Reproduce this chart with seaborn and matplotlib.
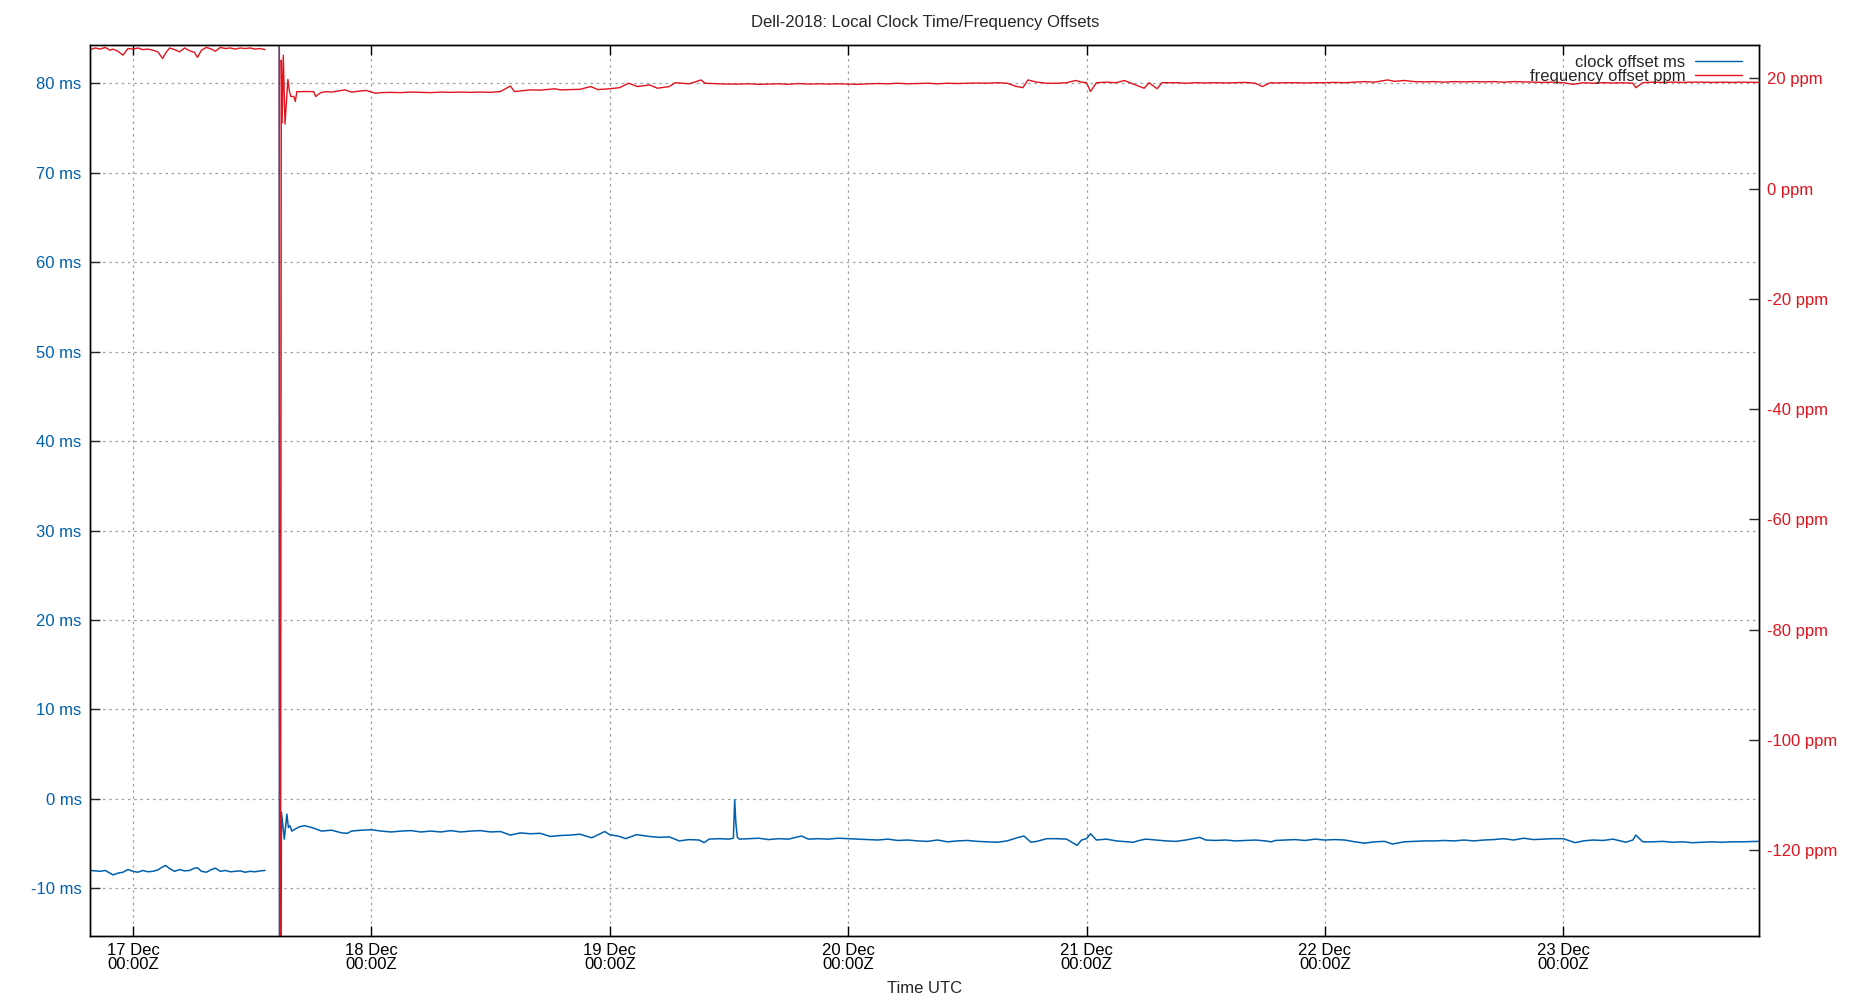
import matplotlib
matplotlib.use("Agg")
import matplotlib.pyplot as plt
from matplotlib.lines import Line2D
import pandas as pd
import seaborn as sns

BLUE = "#0060ad"
RED = "#e0141e"
BASE = pd.Timestamp("2018-12-17 00:00")

# all times are hours after 17 Dec 00:00Z

# before the outage
pre_hours = [-4.3, -3.8, -3.3, -2.8, -2.3, -2.0, -1.5, -1.0, -0.5, 0.0, 0.5, 1.0, 1.5,
             2.0, 2.5, 3.0, 3.3, 3.7, 4.2, 4.7, 5.2, 5.7, 6.2, 6.5, 6.9, 7.4, 7.9, 8.3,
             8.8, 9.3, 9.8, 10.3, 10.8, 11.3, 11.8, 12.3, 12.8, 13.3]
pre_ms = [-8.0, -8.05, -8.1, -8.0, -8.3, -8.5, -8.3, -8.2, -7.9, -8.1, -8.2, -8.0, -8.15,
          -8.1, -7.95, -7.6, -7.45, -7.8, -8.1, -7.9, -8.05, -8.0, -7.75, -7.7, -8.1, -8.2,
          -7.9, -7.75, -8.1, -8.0, -8.15, -8.1, -8.05, -8.2, -8.1, -8.15, -8.05, -8.0]
pre_ppm = [25.2, 25.5, 25.3, 25.6, 25.1, 25.3, 24.9, 24.2, 25.4, 25.3, 25.5, 25.2, 25.3,
           25.1, 24.8, 23.6, 24.6, 25.5, 25.2, 24.8, 25.5, 25.0, 24.7, 23.8, 25.1, 25.6,
           25.3, 24.9, 25.6, 25.4, 25.5, 25.3, 25.5, 25.4, 25.5, 25.3, 25.4, 25.2]

# restart transient + rest of the week, clock offset
post_ms_hours = [14.72, 14.76, 14.95, 15.05, 15.24, 15.5, 15.65, 15.8, 16.0, 16.3, 16.8,
                 17.3, 18, 19, 20, 21, 21.6, 22, 23, 24, 25, 26, 27, 28, 29, 30, 31, 32,
                 33, 34, 35, 36, 37, 38, 39, 40, 41, 42, 43, 44, 45, 46.2, 47.5, 48, 49,
                 49.6, 50.7, 52, 53, 54, 55, 56, 57, 57.5, 58, 59, 60, 60.45, 60.58, 60.7,
                 60.85, 61.05, 62, 63, 64, 65, 66, 67.3, 68, 69, 70, 71, 72, 73, 74, 75,
                 76, 77, 78, 79, 80, 81, 82, 83, 84, 85, 86, 87, 88, 89, 89.7, 90.4, 91,
                 92, 93, 94, 95.05, 95.5, 96, 96.4, 97, 98, 99, 100.7, 101.5, 102, 103,
                 104, 105, 106, 107.4, 108, 109, 110, 111, 112, 113, 114, 114.6, 115, 116,
                 117, 118, 119, 120, 121, 122, 123, 124, 125, 126, 126.8, 128, 129, 130,
                 131, 132, 133, 134, 135, 136, 137, 138, 139, 140, 141, 142, 143, 144,
                 145.2, 146, 147, 148, 149, 150.3, 151, 151.3, 152, 153, 154, 155, 156,
                 157, 158, 159, 160, 161, 162, 163.7]
post_ms = [130, -90, -1.5, -2.5, -4.5, -1.7, -3.2, -3.0, -3.6, -3.4, -3.1,
           -3.0, -3.2, -3.6, -3.5, -3.8, -3.85, -3.6, -3.5, -3.45, -3.6, -3.7, -3.6, -3.55,
           -3.7, -3.6, -3.7, -3.55, -3.7, -3.6, -3.55, -3.7, -3.65, -4.05, -3.8, -3.9,
           -3.85, -4.2, -4.1, -4.05, -3.95, -4.35, -3.65, -4.0, -4.2, -4.45, -4.0, -4.2,
           -4.3, -4.25, -4.7, -4.55, -4.6, -4.9, -4.5, -4.45, -4.5, -4.4, -0.1, -2.7,
           -4.3, -4.5, -4.45, -4.4, -4.55, -4.45, -4.5, -4.15, -4.5, -4.45, -4.5, -4.4,
           -4.45, -4.5, -4.55, -4.6, -4.5, -4.65, -4.6, -4.7, -4.75, -4.6, -4.8, -4.7,
           -4.65, -4.75, -4.8, -4.85, -4.7, -4.35, -4.15, -4.85, -4.75, -4.45, -4.45,
           -4.5, -5.2, -4.6, -4.45, -3.9, -4.6, -4.5, -4.7, -4.85, -4.6, -4.5, -4.6,
           -4.7, -4.75, -4.6, -4.3, -4.6, -4.65, -4.6, -4.7, -4.65, -4.6, -4.7, -4.8,
           -4.65, -4.6, -4.55, -4.65, -4.5, -4.6, -4.55, -4.6, -4.8, -4.95, -4.8, -4.75,
           -5.05, -4.8, -4.75, -4.7, -4.7, -4.65, -4.7, -4.6, -4.7, -4.6, -4.55, -4.45,
           -4.6, -4.4, -4.55, -4.5, -4.45, -4.45, -4.9, -4.7, -4.6, -4.65, -4.5, -4.85,
           -4.6, -4.05, -4.8, -4.8, -4.75, -4.85, -4.8, -4.9, -4.85, -4.8, -4.85, -4.8,
           -4.8, -4.75]

# restart transient + rest of the week, frequency offset
post_ppm_hours = [14.74, 14.80, 14.94, 15.02, 15.14, 15.31, 15.6, 15.75, 15.9, 16.2,
                  16.35, 16.5, 16.72, 17.5, 18.2, 18.4, 18.9, 19.4, 20, 21.35, 22, 23.46,
                  24.4, 25, 26, 27, 28, 29, 30, 31, 32, 33, 34, 35, 36, 37, 38, 38.4, 39,
                  40, 41, 42.5, 43, 44, 45, 46.1, 46.8, 48, 49, 49.9, 50.8, 52, 52.8, 54,
                  54.6, 56, 57.2, 57.6, 59, 60, 61, 62, 63, 64, 65, 66, 67, 68, 69, 70, 71,
                  72, 73, 74, 75, 76, 77, 78, 79, 80, 81, 82, 83, 84, 85, 86, 87, 88, 89,
                  89.6, 90.1, 91, 92, 93, 94, 94.9, 95.5, 96, 96.4, 97, 98, 99, 99.8,
                  100.5, 101.8, 102.3, 103.1, 103.6, 105, 106, 107, 108, 109, 110, 111,
                  112, 113, 113.7, 114.5, 115, 116, 117, 118, 119, 120, 121, 122, 123, 124,
                  125, 126.3, 127, 128, 129, 130, 131, 132, 133, 134, 135, 136, 137, 138,
                  139, 140, 141, 142, 143, 144, 145, 146, 147, 148, 149, 150, 151, 151.3,
                  152, 153, 154, 155, 156, 157, 158, 159, 160, 161, 162, 163.7]
post_ppm = [60, -300, 23.3, 11.9, 24.2, 11.7, 19.8, 17.7, 16.7, 16.7,
            15.8, 17.6, 17.57, 17.6, 17.57, 16.7, 17.4, 17.57, 17.5, 17.9, 17.5, 17.8,
            17.3, 17.4, 17.45, 17.4, 17.5, 17.45, 17.4, 17.5, 17.45, 17.5, 17.45, 17.5,
            17.45, 17.6, 18.6, 17.6, 17.7, 17.9, 17.85, 18.1, 17.9, 17.95, 18.0, 18.5,
            17.95, 18.1, 18.3, 19.1, 18.5, 18.8, 18.2, 18.5, 19.2, 19.0, 19.7, 19.1,
            19.0, 18.95, 18.95, 19.0, 18.9, 18.95, 19.0, 18.9, 19.05, 18.95, 19.0, 18.95,
            19.0, 18.95, 18.9, 19.0, 19.05, 19.0, 19.1, 19.0, 19.05, 19.1, 19.0, 19.1,
            19.05, 19.1, 19.15, 19.1, 19.2, 19.1, 18.5, 18.3, 19.7, 19.3, 19.1, 19.1,
            19.2, 19.6, 19.3, 19.2, 17.6, 19.2, 19.3, 19.2, 19.6, 19.1, 18.2, 19.2, 18.1,
            19.2, 19.2, 19.1, 19.2, 19.15, 19.2, 19.15, 19.2, 19.25, 19.1, 18.5, 19.2,
            19.15, 19.2, 19.2, 19.15, 19.2, 19.2, 19.25, 19.2, 19.3, 19.4, 19.3, 19.7,
            19.45, 19.6, 19.4, 19.35, 19.4, 19.3, 19.4, 19.35, 19.4, 19.35, 19.4, 19.3,
            19.4, 19.35, 19.3, 19.25, 19.3, 19.2, 18.9, 19.2, 19.1, 19.2, 19.15, 19.2,
            19.1, 18.3, 19.2, 19.3, 19.25, 19.3, 19.25, 19.3, 19.3, 19.25, 19.3, 19.25,
            19.3, 19.25]

day_labels = ["17 Dec\n00:00Z", "18 Dec\n00:00Z", "19 Dec\n00:00Z", "20 Dec\n00:00Z",
              "21 Dec\n00:00Z", "22 Dec\n00:00Z", "23 Dec\n00:00Z"]
ms_ticks = [-10, 0, 10, 20, 30, 40, 50, 60, 70, 80]
ppm_ticks = [-120, -100, -80, -60, -40, -20, 0, 20]


def to_time(hours):
    return BASE + pd.to_timedelta(hours, unit="h")


ms_df = pd.DataFrame({
    "time": to_time(pre_hours + post_ms_hours),
    "ms": pre_ms + post_ms,
    "seg": [0] * len(pre_hours) + [1] * len(post_ms_hours),
})
ppm_df = pd.DataFrame({
    "time": to_time(pre_hours + post_ppm_hours),
    "ppm": pre_ppm + post_ppm,
    "seg": [0] * len(pre_hours) + [1] * len(post_ppm_hours),
})

sns.set_theme(style="white")
plt.rcParams["font.family"] = ["Liberation Sans", "DejaVu Sans"]
plt.rcParams["font.size"] = 12

fig = plt.figure(figsize=(18.5, 10), dpi=100)
ax = fig.add_axes([90 / 1850, 1 - 936 / 1000, 1669 / 1850, 891 / 1000])
ax2 = ax.twinx()

sns.lineplot(data=ms_df, x="time", y="ms", units="seg", estimator=None,
             color=BLUE, lw=1.1, ax=ax)
sns.lineplot(data=ppm_df, x="time", y="ppm", units="seg", estimator=None,
             color=RED, lw=1.0, ax=ax2)

ax.set_xlim(to_time(-4.32), to_time(163.7))
ax.set_ylim(-15.33, 84.28)
ax2.set_ylim(-135.6, 26.04)

day_ticks = pd.date_range(BASE, periods=len(day_labels), freq="D")
ax.set_xticks(day_ticks)
xt = ax.set_xticklabels(day_labels)
for t in xt:
    t.set_linespacing(0.95)
ax.set_yticks(ms_ticks)
ax.set_yticklabels([f"{v} ms" for v in ms_ticks], color=BLUE)
ax2.set_yticks(ppm_ticks)
ax2.set_yticklabels([f"{v} ppm" for v in ppm_ticks], color=RED)

ax.tick_params(axis="x", direction="in", length=7, width=1, top=True, bottom=True,
               labelsize=12, pad=5, colors="black")
ax.tick_params(axis="y", direction="in", length=7, width=1, left=True, right=False,
               labelsize=12, pad=6, labelcolor=BLUE)
ax2.tick_params(axis="y", direction="in", length=7, width=1, left=False, right=True,
                labelsize=12, pad=6, labelcolor=RED)

ax.grid(True, color="#a0a0a0", linestyle=(0, (2, 3)), linewidth=0.9)
ax2.grid(False)
for a in (ax, ax2):
    for s in a.spines.values():
        s.set_color("black")
        s.set_linewidth(1.0)

ax.set_xlabel("Time UTC", fontsize=12, labelpad=6)
ax.set_ylabel("")
ax2.set_ylabel("")
fig.text(0.5, 1 - 22 / 1000, "Dell-2018: Local Clock Time/Frequency Offsets",
         ha="center", va="center", fontsize=12)

handles = [Line2D([], [], color=BLUE, lw=1.0), Line2D([], [], color=RED, lw=1.0)]
leg = ax2.legend(handles, ["clock offset ms", "frequency offset ppm"],
                 loc="upper right", bbox_to_anchor=(1742 / 1850, 1 - 55 / 1000),
                 bbox_transform=fig.transFigure, frameon=False, markerfirst=False,
                 handlelength=2.8, handletextpad=0.6, labelspacing=-0.05,
                 borderpad=0, borderaxespad=0, fontsize=12)
# right-justify the key entries like gnuplot does
for col in leg._legend_handle_box.get_children():
    col.align = "right"

fig.savefig("out.png", dpi=100)
